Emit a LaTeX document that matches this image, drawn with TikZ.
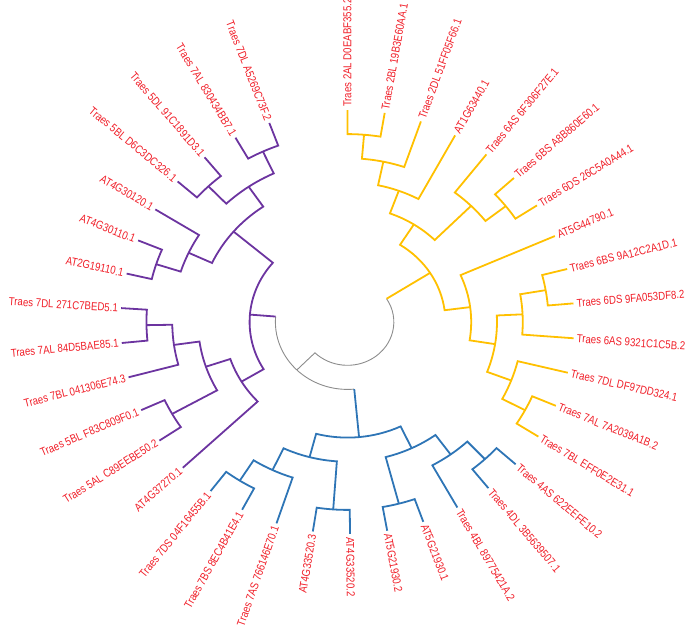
\documentclass[tikz,border=0pt]{standalone}
\usepackage{fontspec}
\newfontfamily\labfont{Liberation Sans}
\definecolor{ycol}{RGB}{255,192,0}
\definecolor{bcol}{RGB}{46,117,182}
\definecolor{pcol}{RGB}{108,52,160}
\definecolor{gcol}{RGB}{140,140,140}
\definecolor{tcol}{RGB}{240,30,40}
\tikzset{
  ybr/.style={draw=ycol, line width=1.8pt, line join=miter},
  bbr/.style={draw=bcol, line width=1.8pt, line join=miter},
  pbr/.style={draw=pcol, line width=1.8pt, line join=miter},
  gbr/.style={draw=gcol, line width=0.9pt},
  lab/.style={text=tcol, inner sep=0.5pt, font=\labfont\fontsize{11.5}{13}\selectfont}
}
% node drawing: style, angle1, radius1, angle2, radius2, node radius
\newcommand\nd[6]{\draw[#1] (#2:#3) -- (#2:#6) arc[start angle=#2, end angle=#4, radius=#6] -- (#4:#5);}
\newcommand\leafR[3]{\pgfmathsetmacro\lang{atan2(sin(#2),1.07*cos(#2))}%
  \node[lab, anchor=west, rotate=\lang, xscale=0.84] (#1) at (#2:\rL) {#3};}
\newcommand\leafL[3]{\pgfmathsetmacro\lang{atan2(sin(#2),1.07*cos(#2))+180}%
  \node[lab, anchor=east, rotate=\lang, xscale=0.84] (#1) at (#2:\rL) {#3};}
\def\rT{212}
\def\rL{214.5}
\def\rI{187.9}
\def\rII{163.8}
\def\rIII{139.7}
\def\rIV{115.6}
\def\rV{91.5}
\def\rVI{67.4}
\def\rVII{43.3}
\begin{document}
\begin{tikzpicture}[x=1pt,y=1pt]
\useasboundingbox (0,0) rectangle (690,-627);
\begin{scope}[shift={(347.5,-322)}, xscale=1.07]
% ---- gray root part
\draw[gbr] (32.475:\rVII) arc[start angle=32.475, end angle=-134.64, radius=\rVII] -- (-134.64:\rVI);
\draw[gbr] (-184.645:\rVI) arc[start angle=-184.645, end angle=-84.64, radius=\rVI];
\draw[ybr] (32.475:\rVII) -- (32.475:\rV);
\draw[pbr] (-184.645:\rVI) -- (-184.645:\rV);
\draw[bbr] (-84.64:\rVI) -- (-84.64:\rIV);
% ---- yellow clade
\nd{ybr}{90}{\rT}{80.56}{\rT}{\rI}
\nd{ybr}{85.28}{\rI}{71.12}{\rT}{\rII}
\nd{ybr}{78.20}{\rII}{61.68}{\rT}{\rIII}
\nd{ybr}{42.80}{\rT}{33.36}{\rT}{\rI}
\nd{ybr}{52.24}{\rT}{38.08}{\rI}{\rII}
\nd{ybr}{69.94}{\rIII}{45.16}{\rII}{\rIV}
\nd{ybr}{14.48}{\rT}{5.04}{\rT}{\rI}
\nd{ybr}{9.76}{\rI}{-4.40}{\rT}{\rII}
\nd{ybr}{-23.28}{\rT}{-32.72}{\rT}{\rI}
\nd{ybr}{-13.84}{\rT}{-28.00}{\rI}{\rII}
\nd{ybr}{2.68}{\rII}{-20.92}{\rII}{\rIII}
\nd{ybr}{23.92}{\rT}{-9.12}{\rIII}{\rIV}
\nd{ybr}{57.55}{\rIV}{7.40}{\rIV}{\rV}
% ---- blue clade
\nd{bbr}{-42.16}{\rT}{-51.60}{\rT}{\rI}
\nd{bbr}{-46.88}{\rI}{-61.04}{\rT}{\rII}
\nd{bbr}{-70.48}{\rT}{-79.92}{\rT}{\rI}
\nd{bbr}{-53.96}{\rII}{-75.20}{\rI}{\rIII}
\nd{bbr}{-89.36}{\rT}{-98.80}{\rT}{\rI}
\nd{bbr}{-117.68}{\rT}{-127.12}{\rT}{\rI}
\nd{bbr}{-108.24}{\rT}{-122.40}{\rI}{\rII}
\nd{bbr}{-94.08}{\rI}{-115.32}{\rII}{\rIII}
\nd{bbr}{-64.58}{\rIII}{-104.70}{\rIII}{\rIV}
% ---- purple clade
\nd{pbr}{-146.00}{\rT}{-155.44}{\rT}{\rI}
\nd{pbr}{-174.32}{\rT}{-183.76}{\rT}{\rI}
\nd{pbr}{-164.88}{\rT}{-179.04}{\rI}{\rII}
\nd{pbr}{-150.72}{\rI}{-171.96}{\rII}{\rIII}
\nd{pbr}{-136.56}{\rT}{-161.34}{\rIII}{\rIV}
\nd{pbr}{-193.20}{\rT}{-202.64}{\rT}{\rI}
\nd{pbr}{-212.08}{\rT}{-197.92}{\rI}{\rII}
\nd{pbr}{-221.52}{\rT}{-230.96}{\rT}{\rI}
\nd{pbr}{-240.40}{\rT}{-249.84}{\rT}{\rI}
\nd{pbr}{-226.24}{\rI}{-245.12}{\rI}{\rII}
\nd{pbr}{-205.00}{\rII}{-235.68}{\rII}{\rIII}
\nd{pbr}{-148.95}{\rIV}{-220.34}{\rIII}{\rV}
% ---- labels
\leafR{l1}{90}{Traes 2AL D0EABF355.2}
\leafR{l2}{80.56}{Traes 2BL 19B3E60AA.1}
\leafR{l3}{71.12}{Traes 2DL 51FF05F66.1}
\leafR{l4}{61.68}{AT1G63440.1}
\leafR{l5}{52.24}{Traes 6AS 6F306F27E.1}
\leafR{l6}{42.80}{Traes 6BS A8B860E60.1}
\leafR{l7}{33.36}{Traes 6DS 26C5A0A44.1}
\leafR{l8}{23.92}{AT5G44790.1}
\leafR{l9}{14.48}{Traes 6BS 9A12C2A1D.1}
\leafR{l10}{5.04}{Traes 6DS 9FA053DF8.2}
\leafR{l11}{-4.40}{Traes 6AS 9321C1C5B.2}
\leafR{l12}{-13.84}{Traes 7DL DF97DD324.1}
\leafR{l13}{-23.28}{Traes 7AL 7A2039A1B.2}
\leafR{l14}{-32.72}{Traes 7BL EFF0E2E31.1}
\leafR{l15}{-42.16}{Traes 4AS 622EEFE10.2}
\leafR{l16}{-51.60}{Traes 4DL 3B5639507.1}
\leafR{l17}{-61.04}{Traes 4BL 89775421A.2}
\leafR{l18}{-70.48}{AT5G21930.1}
\leafR{l19}{-79.92}{AT5G21930.2}
\leafR{l20}{-89.36}{AT4G33520.2}
\leafL{l21}{-98.80}{AT4G33520.3}
\leafL{l22}{-108.24}{Traes 7AS 766146E70.1}
\leafL{l23}{-117.68}{Traes 7BS 8EC4B41E4.1}
\leafL{l24}{-127.12}{Traes 7DS 04F16455B.1}
\leafL{l25}{-136.56}{AT4G37270.1}
\leafL{l26}{-146.00}{Traes 5AL C89EEBE50.2}
\leafL{l27}{-155.44}{Traes 5BL F83C809F0.1}
\leafL{l28}{-164.88}{Traes 7BL 041306E74.3}
\leafL{l29}{-174.32}{Traes 7AL 84D5BAE85.1}
\leafL{l30}{-183.76}{Traes 7DL 271C7BED5.1}
\leafL{l31}{-193.20}{AT2G19110.1}
\leafL{l32}{-202.64}{AT4G30110.1}
\leafL{l33}{-212.08}{AT4G30120.1}
\leafL{l34}{-221.52}{Traes 5BL D6C3DC326.1}
\leafL{l35}{-230.96}{Traes 5DL 91C1891D3.1}
\leafL{l36}{-240.40}{Traes 7AL 830434BB7.1}
\leafL{l37}{-249.84}{Traes 7DL A5269C73F.2}
\end{scope}
\end{tikzpicture}
\end{document}
